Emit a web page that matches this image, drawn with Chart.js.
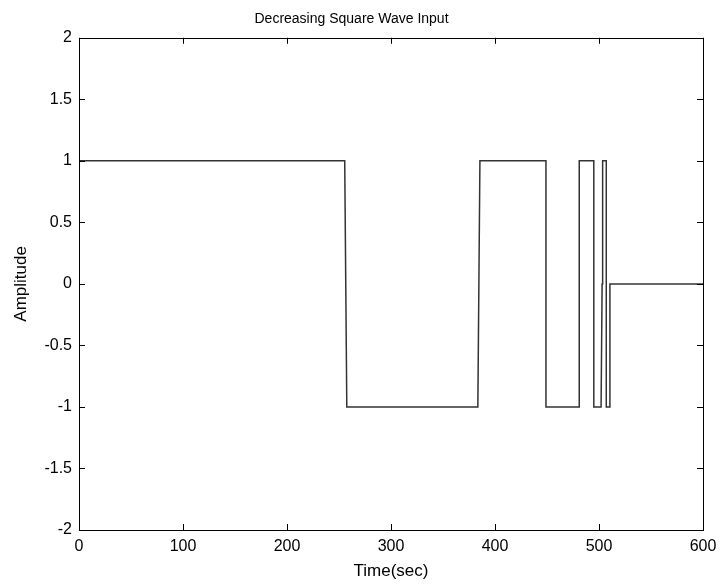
<!DOCTYPE html>
<html>
<head>
<meta charset="utf-8">
<script src="https://cdn.jsdelivr.net/npm/chart.js@4.4.1/dist/chart.umd.min.js"></script>
<style>
  html, body { margin: 0; padding: 0; background: #fff; }
  #wrap { width: 720px; height: 588px; }
</style>
</head>
<body>
<div id="wrap"><canvas id="chart1"></canvas></div>
<script>
// square wave: time (sec) and amplitude pairs
const timeSec = [0, 255.5, 256.5, 257.5, 383.5, 384.5, 385.5, 449, 449, 481, 481, 495, 495, 502, 503, 503.5, 507, 507, 510.5, 510.5, 600];
const amplitude = [1, 1, 0, -1, -1, 0, 1, 1, -1, -1, 1, 1, -1, -1, 0, 1, 1, -1, -1, 0, 0];
const xTicks = [0, 100, 200, 300, 400, 500, 600];
const yTicks = [-2, -1.5, -1, -0.5, 0, 0.5, 1, 1.5, 2];

const fam = "'Liberation Sans', Arial, sans-serif";
const tickFont = { family: fam, size: 16 };
const labelFont = { family: fam, size: 17 };

// matlab style box with inward ticks
const boxTicks = {
  id: 'boxTicks',
  afterDraw(chart) {
    const { ctx, chartArea: a, scales } = chart;
    ctx.save();
    ctx.strokeStyle = '#000';
    ctx.lineWidth = 1;
    ctx.beginPath();
    xTicks.forEach(v => {
      const px = Math.round(scales.x.getPixelForValue(v)) + 0.5;
      ctx.moveTo(px, a.bottom); ctx.lineTo(px, a.bottom - 6);
      ctx.moveTo(px, a.top); ctx.lineTo(px, a.top + 6);
    });
    yTicks.forEach(v => {
      const py = Math.round(scales.y.getPixelForValue(v)) + 0.5;
      ctx.moveTo(a.left, py); ctx.lineTo(a.left + 6, py);
      ctx.moveTo(a.right, py); ctx.lineTo(a.right - 6, py);
    });
    ctx.stroke();
    ctx.strokeRect(Math.round(a.left) + 0.5, Math.round(a.top) + 0.5,
      Math.round(a.right - a.left), Math.round(a.bottom - a.top));
    ctx.restore();
  }
};

const ctx1 = document.getElementById('chart1').getContext('2d');
const chart1 = new Chart(ctx1, {
  type: 'line',
  data: {
    datasets: [{
      label: 'input',
      data: timeSec.map((t, i) => ({ x: t, y: amplitude[i] })),
      borderColor: '#333',
      borderWidth: 1.5,
      pointRadius: 0,
      fill: false,
      tension: 0
    }]
  },
  options: {
    responsive: true,
    maintainAspectRatio: false,
    animation: false,
    layout: { padding: { left: 0, right: 17, top: 0, bottom: 0 } },
    plugins: {
      legend: { display: false },
      tooltip: { enabled: false },
      title: {
        display: true,
        text: 'Decreasing Square Wave Input',
        color: '#000',
        font: { family: fam, size: 14, weight: 'normal' },
        padding: { top: 11, bottom: 10 }
      }
    },
    scales: {
      x: {
        type: 'linear',
        min: 0,
        max: 600,
        afterFit: s => { s.height = 58; s.paddingLeft = 0; s.paddingRight = 0; },
        afterBuildTicks: s => { s.ticks = xTicks.map(v => ({ value: v })); },
        grid: { display: false, drawTicks: false },
        border: { display: false },
        ticks: { color: '#000', font: tickFont, padding: 7, maxRotation: 0 },
        title: { display: true, text: 'Time(sec)', color: '#000', font: labelFont, padding: { top: 6, bottom: 6 } }
      },
      y: {
        min: -2,
        max: 2,
        afterFit: s => { s.width = 79; s.paddingTop = 0; s.paddingBottom = 0; },
        afterBuildTicks: s => { s.ticks = yTicks.map(v => ({ value: v })); },
        grid: { display: false, drawTicks: false },
        border: { display: false },
        ticks: { color: '#000', font: tickFont, padding: 7, callback: v => String(v) },
        title: { display: true, text: 'Amplitude', color: '#000', font: labelFont, padding: { top: 11, bottom: 11 } }
      }
    }
  },
  plugins: [boxTicks]
});
</script>
</body>
</html>
